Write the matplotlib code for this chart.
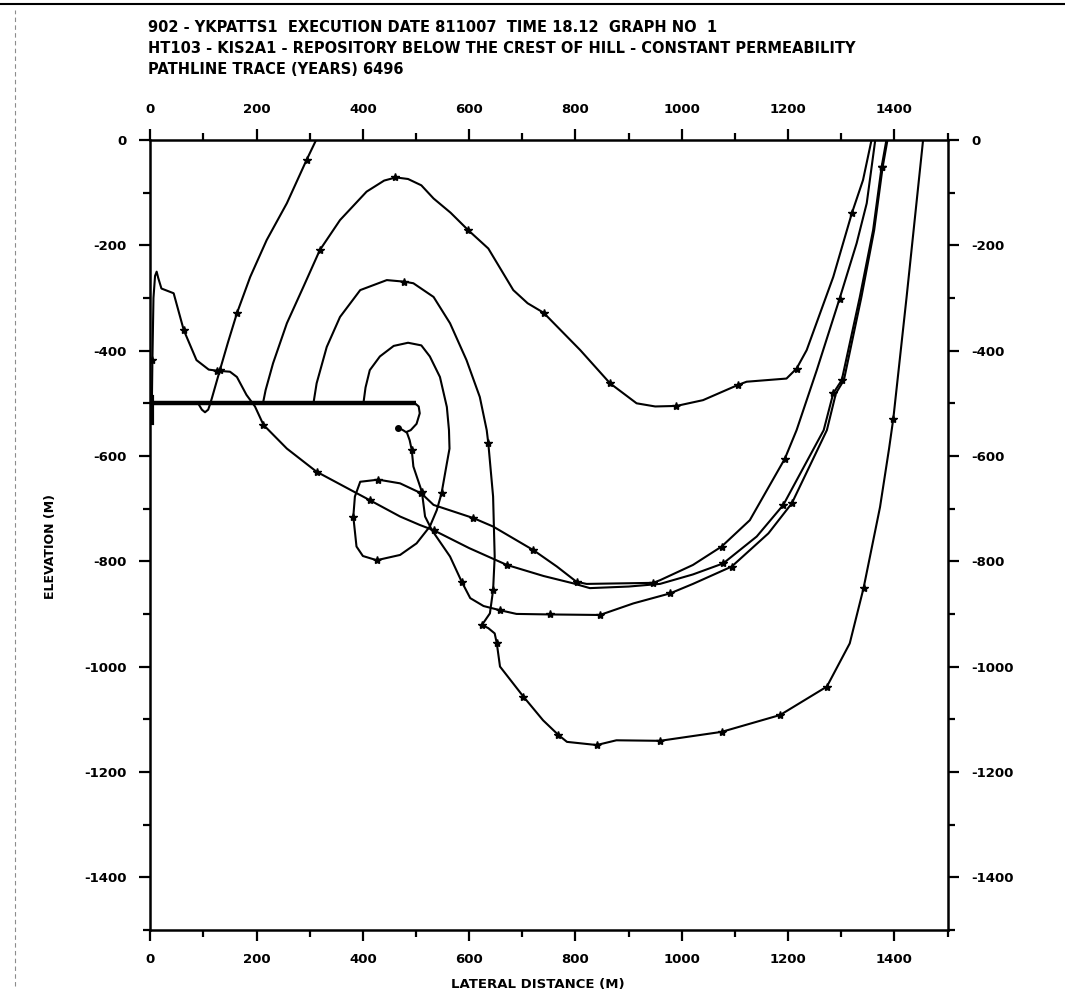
import numpy as np
import matplotlib.pyplot as plt
from matplotlib.lines import Line2D

# ---- data (lateral distance m, elevation m) ----
title_lines = [
    "902 - YKPATTS1  EXECUTION DATE 811007  TIME 18.12  GRAPH NO  1",
    "HT103 - KIS2A1 - REPOSITORY BELOW THE CREST OF HILL - CONSTANT PERMEABILITY",
    "PATHLINE TRACE (YEARS) 6496",
]
x_ticks = [0, 200, 400, 600, 800, 1000, 1200, 1400]
y_ticks = [0, -200, -400, -600, -800, -1000, -1200, -1400]

# repository (thick horizontal line) and hook at its end
repo_x = [0, 500]
repo_e = [-500, -500]
repo_left_x = [3, 3]
repo_left_e = [-538, -488]
hook_x = [498, 505, 507, 501, 490, 483]
hook_e = [-500, -506, -519, -539, -551, -554]

# pathline 1: short one leaving through the surface near 300 m
p1_x = [90, 97, 103, 109, 113, 116, 131, 146, 163, 188, 219, 257, 294, 312]
p1_e = [-500, -512, -517, -512, -500, -490, -437, -385, -329, -260, -190, -120, -38, 0]
p1_mx = [131, 163, 294]
p1_me = [-437, -329, -38]

# pathline 2: high arch, exits near 1357 m
p2_x = [212, 217, 231, 257, 288, 319, 357, 407, 440, 462, 485, 510, 533, 565, 598,
        636, 683, 710, 740, 809, 865, 915, 950, 990, 1040, 1106, 1122, 1197, 1216,
        1235, 1285, 1320, 1341, 1357]
p2_e = [-500, -475, -424, -348, -279, -209, -152, -98, -77, -71, -74, -86, -111, -138,
        -171, -206, -285, -310, -328, -399, -462, -500, -506, -505, -494, -465, -459,
        -453, -434, -399, -260, -139, -76, 0]
p2_mx = [319, 460, 598, 740, 865, 990, 1106, 1216, 1320]
p2_me = [-209, -71, -171, -328, -462, -505, -465, -434, -139]

# pathline 3: spike at the left boundary then long diagonal
p3_x = [2, 3, 4, 6, 9, 12, 15, 21, 44, 63, 87, 110, 125, 150, 163, 181, 197, 213, 257,
        313, 413, 470, 507, 533, 600, 671, 740, 796, 827, 900, 959, 1021, 1078, 1141,
        1191, 1267, 1285, 1301, 1335, 1360, 1376, 1385]
p3_e = [-535, -500, -420, -300, -258, -250, -262, -282, -291, -361, -418, -436, -438,
        -440, -450, -484, -506, -541, -586, -630, -684, -715, -731, -741, -775, -807,
        -828, -842, -851, -848, -843, -825, -804, -753, -693, -551, -481, -456, -298,
        -171, -51, 0]
p3_mx = [3, 63, 125, 213, 313, 413, 533, 671, 1078, 1191, 1285, 1376]
p3_me = [-418, -361, -438, -541, -630, -684, -741, -807, -804, -693, -481, -51]

# pathline 4: deepest one, exits near 1454 m
p4_x = [307, 313, 332, 357, 395, 445, 478, 495, 533, 564, 595, 620, 633, 636, 645, 648,
        645, 639, 624, 636, 648, 652, 658, 702, 739, 768, 784, 840, 877, 959, 1075,
        1185, 1273, 1316, 1342, 1373, 1390, 1398, 1423, 1454]
p4_e = [-500, -462, -393, -336, -285, -266, -269, -272, -298, -348, -418, -488, -551,
        -576, -677, -791, -855, -899, -921, -927, -937, -956, -1000, -1057, -1102,
        -1130, -1143, -1149, -1140, -1141, -1124, -1092, -1038, -956, -851, -697,
        -586, -529, -298, 0]
p4_mx = [478, 636, 645, 624, 652, 702, 768, 840, 959, 1075, 1185, 1273, 1342, 1398]
p4_me = [-269, -576, -855, -921, -956, -1057, -1130, -1149, -1141, -1124, -1092,
         -1038, -851, -529]

# pathline 5: from the end of the repository
p5_x = [467, 477, 483, 488, 492, 495, 511, 517, 530, 564, 586, 602, 627, 658, 689, 752,
        846, 909, 978, 1021, 1094, 1163, 1207, 1273, 1290, 1305, 1338, 1362, 1378, 1387]
p5_e = [-546, -552, -556, -570, -589, -620, -668, -715, -741, -791, -839, -870, -885,
        -893, -900, -901, -902, -880, -861, -843, -810, -747, -690, -551, -481, -456,
        -298, -171, -51, 0]
p5_mx = [492, 511, 586, 658, 752, 846, 978, 1094, 1207, 1301, 1376]
p5_me = [-589, -668, -839, -893, -901, -902, -861, -810, -690, -456, -51]

# pathline 6: inner arch with a loop
p6_x = [401, 405, 413, 432, 458, 485, 510, 526, 545, 558, 562, 563, 558, 548, 539, 526,
        501, 470, 426, 400, 388, 382, 385, 395, 429, 470, 510, 533, 608, 645, 721, 765,
        802, 821, 946, 959, 1021, 1075, 1128, 1194, 1216, 1254, 1297, 1329, 1348, 1364]
p6_e = [-500, -470, -437, -411, -391, -385, -390, -411, -450, -507, -551, -586, -614,
        -671, -703, -734, -766, -788, -798, -790, -772, -715, -677, -649, -645, -652,
        -671, -693, -718, -734, -779, -810, -839, -843, -841, -836, -807, -772, -722,
        -605, -551, -437, -301, -196, -120, 0]
p6_mx = [548, 426, 382, 429, 510, 608, 721, 802, 946, 1075, 1194, 1297]
p6_me = [-671, -798, -715, -645, -671, -718, -779, -839, -841, -772, -605, -301]

paths = [
    (p1_x, p1_e, p1_mx, p1_me),
    (p2_x, p2_e, p2_mx, p2_me),
    (p3_x, p3_e, p3_mx, p3_me),
    (p4_x, p4_e, p4_mx, p4_me),
    (p5_x, p5_e, p5_mx, p5_me),
    (p6_x, p6_e, p6_mx, p6_me),
]

font = dict(family='DejaVu Sans', weight='bold')

fig = plt.figure(figsize=(10.65, 10.06), dpi=100)
ax = fig.add_axes([0.1411, 0.0757, 0.7486, 0.7851])

# repository
ax.plot(repo_x, repo_e, color='black', lw=3.2, solid_capstyle='butt')
ax.plot(repo_left_x, repo_left_e, color='black', lw=3.0)
ax.plot(hook_x, hook_e, color='black', lw=1.5)
ax.plot([467], [-546], 'o', color='black', ms=4)

# pathlines with time markers
for px, pe, mx, me in paths:
    ax.plot(px, pe, color='black', lw=1.5)
    ax.plot(mx, me, linestyle='none', marker='*', color='black', ms=6)

ax.set_xlim(0, 1500)
ax.set_ylim(-1500, 0)

ax.set_xticks(x_ticks)
ax.set_xticklabels([str(v) for v in x_ticks], fontsize=9.5, **font)
ax.set_xticks(np.arange(100, 1501, 200), minor=True)
ax.set_yticks(y_ticks)
ax.set_yticklabels([str(v) for v in y_ticks], fontsize=9.5, **font)
ax.set_yticks(np.arange(-100, -1501, -200), minor=True)

ax.tick_params(which='both', direction='out', top=True, right=True,
               labeltop=True, labelright=True, width=1.6, color='black')
ax.tick_params(which='major', length=8, pad=9)
ax.tick_params(which='minor', length=5)
for sp in ax.spines.values():
    sp.set_linewidth(1.8)

fig.text(0.047, 0.457, 'ELEVATION (M)', rotation=90, ha='center', va='center',
         fontsize=9, **font)
fig.text(0.505, 0.021, 'LATERAL DISTANCE (M)', ha='center', va='center',
         fontsize=9.5, **font)

for i, line in enumerate(title_lines):
    fig.text(0.139, 0.973 - i * 0.021, line, ha='left', va='center',
             fontsize=10.5, **font)

# scan edges
fig.add_artist(Line2D([0, 1], [0.996, 0.996], color='black', lw=1.5))
fig.add_artist(Line2D([0.014, 0.014], [0.02, 0.99], color='0.55', lw=0.8,
                      linestyle=(0, (4, 3))))

fig.savefig('out.png', dpi=100)
